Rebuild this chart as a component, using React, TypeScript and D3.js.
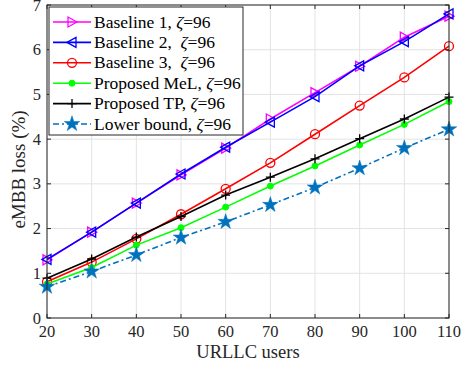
import React from 'react'
import * as d3 from 'd3'

const users = [20, 30, 40, 50, 60, 70, 80, 90, 100, 110]
const baseline1 = [1.3, 1.92, 2.57, 3.2, 3.8, 4.45, 5.04, 5.63, 6.28, 6.75]
const baseline2 = [1.31, 1.92, 2.57, 3.22, 3.82, 4.38, 4.95, 5.64, 6.18, 6.8]
const baseline3 = [0.81, 1.25, 1.77, 2.32, 2.89, 3.47, 4.11, 4.75, 5.38, 6.08]
const proposedMeL = [0.76, 1.13, 1.63, 2.02, 2.48, 2.95, 3.4, 3.87, 4.33, 4.84]
const proposedTP = [0.89, 1.32, 1.81, 2.27, 2.75, 3.15, 3.56, 4.01, 4.45, 4.94]
const lowerBound = [0.7, 1.04, 1.41, 1.8, 2.15, 2.53, 2.92, 3.35, 3.8, 4.22]
const xTicks = [20, 30, 40, 50, 60, 70, 80, 90, 100, 110]
const yTicks = [0, 1, 2, 3, 4, 5, 6, 7]

const series = [
  { name: 'Baseline 1,', values: baseline1, color: '#ff00ff', marker: 'triR', dash: '' },
  { name: 'Baseline 2,\u00a0', values: baseline2, color: '#0000ff', marker: 'triL', dash: '' },
  { name: 'Baseline 3,\u00a0', values: baseline3, color: '#ff0000', marker: 'circle', dash: '' },
  { name: 'Proposed MeL,', values: proposedMeL, color: '#00ff00', marker: 'dot', dash: '' },
  { name: 'Proposed TP,', values: proposedTP, color: '#000000', marker: 'plus', dash: '' },
  { name: 'Lower bound,', values: lowerBound, color: '#0072bd', marker: 'star', dash: '6,3,2,3' },
]

const width = 462
const height = 371
const marginLeft = 47
const marginRight = 13
const marginTop = 5
const marginBottom = 53
const font = '"Liberation Serif", "Times New Roman", serif'

const Marker = ({ type, x, y, color }: { type: string; x: number; y: number; color: string }) => {
  if (type === 'triR')
    return <path d={`M${x + 5},${y} L${x - 4},${y - 5} L${x - 4},${y + 5} Z`} fill="none" stroke={color} strokeWidth={1.3} />
  if (type === 'triL')
    return <path d={`M${x - 5},${y} L${x + 4},${y - 5} L${x + 4},${y + 5} Z`} fill="none" stroke={color} strokeWidth={1.3} />
  if (type === 'circle') return <circle cx={x} cy={y} r={4.5} fill="none" stroke={color} strokeWidth={1.3} />
  if (type === 'dot') return <circle cx={x} cy={y} r={3} fill={color} stroke={color} />
  if (type === 'plus')
    return <path d={`M${x - 4.5},${y} H${x + 4.5} M${x},${y - 4.5} V${y + 4.5}`} stroke={color} strokeWidth={1.3} />
  const star = d3.symbol(d3.symbolStar, 75)()
  return <path d={star ?? ''} transform={`translate(${x},${y})`} fill={color} stroke={color} strokeWidth={0.5} />
}

export default function App() {
  const x = d3.scaleLinear().domain([20, 110]).range([marginLeft, width - marginRight])
  const y = d3.scaleLinear().domain([0, 7]).range([height - marginBottom, marginTop])
  const line = d3
    .line<number>()
    .x((_, i) => x(users[i]))
    .y((d) => y(d))

  const x0 = x(20)
  const x1 = x(110)
  const y0 = y(0)
  const y1 = y(7)

  const legX = 49
  const legY = 7
  const rowH = 20.4

  return (
    <svg width={width} height={height} style={{ position: 'absolute', left: 0, top: 0, background: '#fff' }} fontFamily={font}>
      {/* grid */}
      {xTicks.map((t) => (
        <line key={'gx' + t} x1={x(t)} x2={x(t)} y1={y0} y2={y1} stroke="#e3e3e3" strokeWidth={1} />
      ))}
      {yTicks.map((t) => (
        <line key={'gy' + t} x1={x0} x2={x1} y1={y(t)} y2={y(t)} stroke="#e3e3e3" strokeWidth={1} />
      ))}

      {/* series */}
      {series.map((s) => (
        <g key={s.name}>
          <path d={line(s.values) ?? ''} fill="none" stroke={s.color} strokeWidth={1.6} strokeDasharray={s.dash} />
          {s.values.map((v, i) => (
            <Marker key={i} type={s.marker} x={x(users[i])} y={y(v)} color={s.color} />
          ))}
        </g>
      ))}

      {/* box and ticks */}
      <rect x={x0} y={y1} width={x1 - x0} height={y0 - y1} fill="none" stroke="#262626" strokeWidth={1} />
      {xTicks.map((t) => (
        <g key={'tx' + t}>
          <line x1={x(t)} x2={x(t)} y1={y0} y2={y0 - 4} stroke="#262626" />
          <line x1={x(t)} x2={x(t)} y1={y1} y2={y1 + 4} stroke="#262626" />
          <text x={x(t)} y={y0 + 19} textAnchor="middle" fontSize={16.5} fill="#262626">
            {t}
          </text>
        </g>
      ))}
      {yTicks.map((t) => (
        <g key={'ty' + t}>
          <line x1={x0} x2={x0 + 4} y1={y(t)} y2={y(t)} stroke="#262626" />
          <line x1={x1} x2={x1 - 4} y1={y(t)} y2={y(t)} stroke="#262626" />
          <text x={x0 - 6} y={y(t) + 5.5} textAnchor="end" fontSize={16.5} fill="#262626">
            {t}
          </text>
        </g>
      ))}

      <text x={(x0 + x1) / 2} y={y0 + 40} textAnchor="middle" fontSize={18.5} fill="#262626">
        URLLC users
      </text>
      <text
        transform={`translate(25,${(y0 + y1) / 2 + 8}) rotate(-90)`}
        textAnchor="middle"
        fontSize={19}
        fill="#262626"
      >
        eMBB loss (%)
      </text>

      {/* legend */}
      <rect x={legX} y={legY} width={194} height={128} fill="#fff" stroke="#262626" strokeWidth={1} />
      {series.map((s, i) => {
        const cy = legY + 15 + i * rowH
        return (
          <g key={'leg' + i}>
            <line x1={legX + 4} x2={legX + 42} y1={cy} y2={cy} stroke={s.color} strokeWidth={1.6} strokeDasharray={s.dash} />
            <Marker type={s.marker} x={legX + 23} y={cy} color={s.color} />
            <text x={legX + 45} y={cy + 5.5} fontSize={17.5} fill="#000" style={{ whiteSpace: 'pre' }}>
              {s.name + ' '}
              <tspan fontStyle="italic">ζ</tspan>=96
            </text>
          </g>
        )
      })}
    </svg>
  )
}
